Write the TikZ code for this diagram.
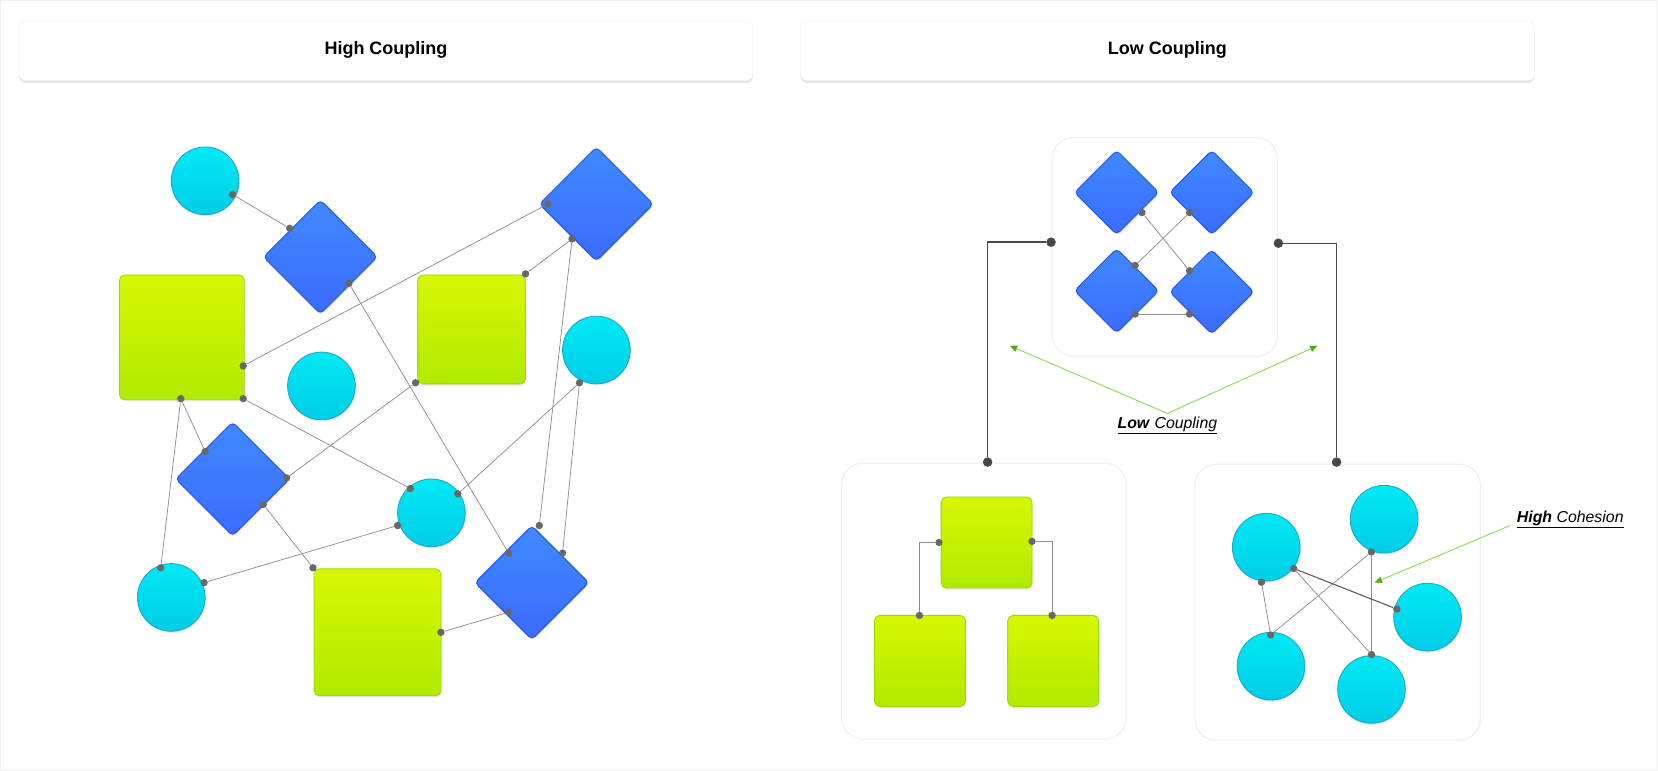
\documentclass[tikz,border=0pt]{standalone}
\usepackage{fontspec}
\setmainfont{Liberation Sans}
\usetikzlibrary{shapes.geometric,shadows,arrows.meta}
\definecolor{cyanT}{HTML}{00E9F6}
\definecolor{cyanB}{HTML}{00CDE6}
\definecolor{cyanE}{HTML}{14A9C2}
\definecolor{blueT}{HTML}{4089FF}
\definecolor{blueB}{HTML}{3B6BFF}
\definecolor{blueE}{HTML}{1F52F5}
\definecolor{limeT}{HTML}{D7F700}
\definecolor{limeB}{HTML}{B1EA00}
\definecolor{limeE}{HTML}{98D900}
\definecolor{wireC}{HTML}{8E8E8E}
\definecolor{dotC}{HTML}{686868}
\definecolor{linkC}{HTML}{474747}
\definecolor{noteC}{HTML}{86D94E}
\definecolor{tipC}{HTML}{4CAF10}
\definecolor{boxE}{HTML}{EEEEEE}
\tikzset{
  soft/.style={drop shadow={opacity=0.18,shadow xshift=0.6pt,shadow yshift=-1.6pt}},
  ball/.style={circle,inner sep=0,minimum size=64,top color=cyanT,bottom color=cyanB,draw=cyanE,line width=0.8pt,soft},
  gem/.style={diamond,inner sep=0,minimum width=#1,minimum height=#1,rounded corners=4pt,top color=blueT,bottom color=blueB,draw=blueE,line width=0.9pt,soft},
  block/.style 2 args={rectangle,inner sep=0,minimum width=#1,minimum height=#2,rounded corners=5pt,top color=limeT,bottom color=limeB,draw=limeE,line width=0.8pt,soft},
  dotnode/.style={circle,inner sep=0,minimum size=7,fill=dotC},
  bigdot/.style={circle,inner sep=0,minimum size=9,fill=linkC},
  wire/.style={draw=wireC,line width=0.7pt},
  link/.style={draw=linkC,line width=1.3pt},
  note/.style={draw=noteC,line width=0.8pt,-{Triangle[length=7pt,width=6pt,color=tipC]}},
  headbox/.style={draw=boxE,fill=white,rounded corners=6pt,drop shadow={opacity=0.2,shadow xshift=0pt,shadow yshift=-2.5pt}},
  panel/.style={draw=boxE,line width=1pt,fill=white,rounded corners=20pt},
  headtext/.style={font=\bfseries\fontsize{17}{20}\selectfont},
  notetext/.style={font=\fontsize{15}{18}\selectfont}
}
\begin{document}
\begin{tikzpicture}[x=1pt,y=-1pt]
      \useasboundingbox (0,0) rectangle (1568,729);
      \draw[boxE,line width=1pt] (0.5,0.5) rectangle (1567.5,728.5);
      \draw[headbox] (18,20) rectangle (712,76);
      \draw[headbox] (757,20) rectangle (1451,76);
      \draw[panel] (995,130) rectangle (1208,337);
      \draw[panel] (796,438) rectangle (1065,699);
      \draw[panel] (1130,439) rectangle (1400,700);
      \node[headtext] (hc) at (365,47) {High Coupling};
      \node[headtext] (lc) at (1104,47) {Low Coupling};
      \draw
        (194,171) node[ball] (c1){}
        (304,365) node[ball] (c2){}
        (564,331) node[ball] (c3){}
        (408,485) node[ball] (c4){}
        (162,565) node[ball] (c5){}
        (303,243) node[gem=108] (d1){}
        (564,193) node[gem=108] (d2){}
        (220,453) node[gem=108] (d3){}
        (503,551) node[gem=108] (d4){}
        (172,319) node[block={118}{118}] (r1){}
        (446,311.5) node[block={102}{103}] (r2){}
        (357,598) node[block={120}{120}] (r3){};
      \draw
        (1056,182) node[gem=80] (g1){}
        (1146,182) node[gem=80] (g2){}
        (1056,275) node[gem=80] (g3){}
        (1146,276) node[gem=80] (g4){}
        (933,513) node[block={86}{86}] (b1){}
        (870,625) node[block={86}{86}] (b2){}
        (996,625) node[block={86}{86}] (b3){}
        (1197.5,517.5) node[ball] (k1){}
        (1309,491) node[ball] (k2){}
        (1350,583.6) node[ball] (k3){}
        (1202,630) node[ball] (k4){}
        (1297,652) node[ball] (k5){};
      \draw
        (220,184) node[dotnode] (c1a){}
        (274,216) node[dotnode] (d1a){}
        (330,268) node[dotnode] (d1b){}
        (518,193) node[dotnode] (d2a){}
        (541,226) node[dotnode] (d2b){}
        (230,346) node[dotnode] (r1a){}
        (171,377) node[dotnode] (r1b){}
        (230,377) node[dotnode] (r1c){}
        (497,259) node[dotnode] (r2a){}
        (393,362) node[dotnode] (r2b){}
        (548,362) node[dotnode] (c3a){}
        (194,427) node[dotnode] (d3a){}
        (271,452) node[dotnode] (d3b){}
        (249,477) node[dotnode] (d3c){}
        (388,462) node[dotnode] (c4a){}
        (433,467) node[dotnode] (c4b){}
        (376,497) node[dotnode] (c4c){}
        (152,537) node[dotnode] (c5a){}
        (193,551) node[dotnode] (c5b){}
        (296,537) node[dotnode] (r3a){}
        (417,598) node[dotnode] (r3b){}
        (510,497) node[dotnode] (d4a){}
        (481,523) node[dotnode] (d4b){}
        (532,523) node[dotnode] (d4c){}
        (481,579) node[dotnode] (d4d){};
      \draw
        (1080,201) node[dotnode] (g1a){}
        (1125,201) node[dotnode] (g2a){}
        (1073.5,251) node[dotnode] (g3a){}
        (1125,256) node[dotnode] (g4a){}
        (1073.5,297) node[dotnode] (g3b){}
        (1125,297) node[dotnode] (g4b){}
        (888,513) node[dotnode] (b1a){}
        (976,512) node[dotnode] (b1b){}
        (869.5,582) node[dotnode] (b2a){}
        (995,582) node[dotnode] (b3a){}
        (1223.5,537.6) node[dotnode] (k1a){}
        (1193,550.6) node[dotnode] (k1b){}
        (1297,522) node[dotnode] (k2a){}
        (1321,576) node[dotnode] (k3a){}
        (1201.6,600.5) node[dotnode] (k4a){}
        (1297,619) node[dotnode] (k5a){}
        (994,229) node[bigdot] (ga){}
        (1209,230) node[bigdot] (gb){}
        (934,437) node[bigdot] (ba){}
        (1264,437) node[bigdot] (ka){};
      \begin{scope}[wire]
        \draw (c1a) to (d1a);
        \draw (r1a) to (d2a);
        \draw (d2b) to (r2a);
        \draw (d1b) to (d4b);
        \draw (d2b) to (d4a);
        \draw (r1b) to (d3a);
        \draw (r1b) to (c5a);
        \draw (r1c) to (c4a);
        \draw (r2b) to (d3b);
        \draw (c3a) to (c4b);
        \draw (c3a) to (d4c);
        \draw (d3c) to (r3a);
        \draw (c5b) to (c4c);
        \draw (r3b) to (d4d);
        \draw (g1a) to (g4a);
        \draw (g2a) to (g3a);
        \draw (g3b) to (g4b);
        \draw (b1a) -| (b2a);
        \draw (b1b) -| (b3a);
        \draw (k1a) to (k5a);
        \draw (k1b) to (k4a);
        \draw (k2a) to (k4a);
        \draw (k2a) to (k5a);
      \end{scope}
      \draw[wire,draw=linkC!90,line width=1pt] (k1a) to (k3a);
      \begin{scope}[link]
        \draw (ga) -| (ba);
        \draw (gb) -| (ka);
      \end{scope}
      \coordinate (apex) at (1104,391);
      \coordinate (tipl) at (955,327);
      \coordinate (tipr) at (1246,327);
      \coordinate (tipc) at (1300,551);
      \coordinate (foot) at (1428,497);
      \draw[note] (apex) to (tipl);
      \draw[note] (apex) to (tipr);
      \draw[note] (foot) to (tipc);
      \node[notetext] (lowc) at (1104,402) {\underline{\textbf{\textit{Low}} \textit{Coupling}}};
      \node[notetext] (highc) at (1485,491) {\underline{\textbf{\textit{High}} \textit{Cohesion}}};
    \end{tikzpicture}
\end{document}
